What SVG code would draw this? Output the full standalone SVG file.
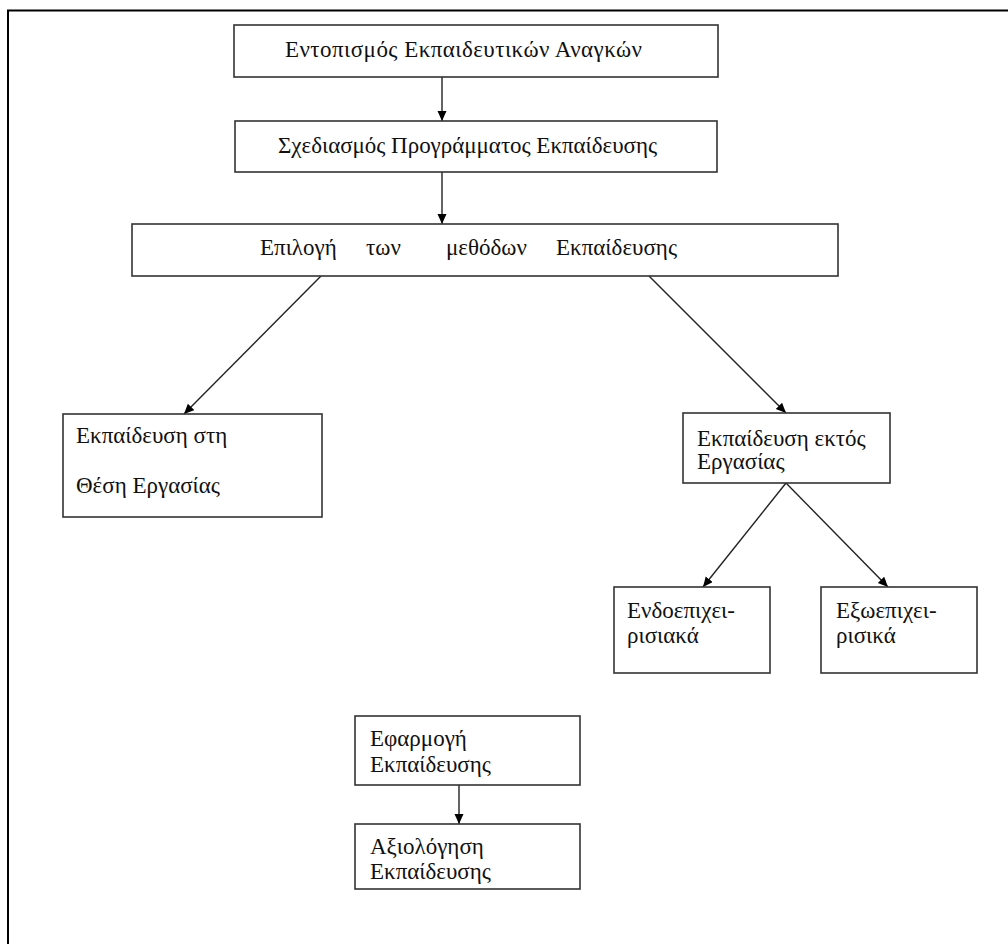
<svg xmlns="http://www.w3.org/2000/svg" width="1008" height="944" viewBox="0 0 1008 944">
<style>
.box{fill:#fff;stroke:#333;stroke-width:1.6}
.t{font-family:"Liberation Serif","Times New Roman",serif;font-size:23px;fill:#111}
.ln{stroke:#222;stroke-width:1.4;fill:none;marker-end:url(#ah)}
</style>
<defs>
<marker id="ah" markerUnits="userSpaceOnUse" markerWidth="12" markerHeight="10" refX="10" refY="4.5" orient="auto">
<path d="M0,0 L10,4.5 L0,9 Z" fill="#000"/>
</marker>
</defs>
<rect width="1008" height="944" fill="#fff"/>
<path d="M8,944 V10.5 H1008" fill="none" stroke="#000" stroke-width="2"/>
<g id="connectors">
<line class="ln" x1="442" y1="77" x2="442" y2="121"/>
<line class="ln" x1="442" y1="172" x2="442" y2="224"/>
<line class="ln" x1="321" y1="276" x2="184" y2="414"/>
<line class="ln" x1="649" y1="276" x2="786" y2="413"/>
<line class="ln" x1="786" y1="483" x2="703" y2="587"/>
<line class="ln" x1="786" y1="483" x2="888" y2="587"/>
<line class="ln" x1="459" y1="785" x2="459" y2="824"/>
</g>
<g id="n1">
<rect class="box" x="234" y="25" width="484" height="52"/>
<text class="t" x="285" y="57" textLength="357">Εντοπισμός Εκπαιδευτικών Αναγκών</text>
</g>
<g id="n2">
<rect class="box" x="235" y="121" width="482" height="51"/>
<text class="t" x="278" y="153" textLength="379">Σχεδιασμός Προγράμματος Εκπαίδευσης</text>
</g>
<g id="n3">
<rect class="box" x="132" y="224" width="706" height="52"/>
<text class="t" x="260" y="255">Επιλογή</text>
<text class="t" x="366" y="255">των</text>
<text class="t" x="446" y="255">μεθόδων</text>
<text class="t" x="556" y="255" textLength="121">Εκπαίδευσης</text>
</g>
<g id="n4">
<rect class="box" x="63" y="414" width="259" height="103"/>
<text class="t" x="76" y="443">Εκπαίδευση στη</text>
<text class="t" x="76" y="493">Θέση Εργασίας</text>
</g>
<g id="n5">
<rect class="box" x="683" y="413" width="207" height="70"/>
<text class="t" x="697" y="446">Εκπαίδευση εκτός</text>
<text class="t" x="697" y="469">Εργασίας</text>
</g>
<g id="n6">
<rect class="box" x="614" y="587" width="156" height="86"/>
<text class="t" x="627" y="618">Ενδοεπιχει-</text>
<text class="t" x="627" y="643">ρισιακά</text>
</g>
<g id="n7">
<rect class="box" x="821" y="587" width="156" height="86"/>
<text class="t" x="836" y="618">Εξωεπιχει-</text>
<text class="t" x="836" y="643">ρισικά</text>
</g>
<g id="n8">
<rect class="box" x="355" y="716" width="225" height="69"/>
<text class="t" x="370" y="746">Εφαρμογή</text>
<text class="t" x="370" y="772">Εκπαίδευσης</text>
</g>
<g id="n9">
<rect class="box" x="355" y="824" width="225" height="65"/>
<text class="t" x="370" y="854">Αξιολόγηση</text>
<text class="t" x="370" y="879">Εκπαίδευσης</text>
</g>
</svg>
